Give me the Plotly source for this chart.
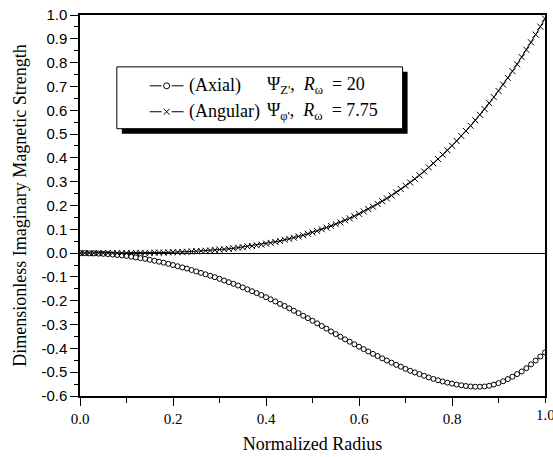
import plotly.graph_objects as go

# Normalized radius samples (step 0.01)
radius = [round(i * 0.01, 2) for i in range(101)]

# Imaginary part of the axial field component, R_omega = 20
axial = [
    0.000, -0.000, -0.001, -0.001, -0.002, -0.003, -0.004, -0.006, -0.008, -0.010,
    -0.012, -0.015, -0.018, -0.021, -0.024, -0.028, -0.032, -0.036, -0.040, -0.045,
    -0.050, -0.055, -0.060, -0.065, -0.071, -0.077, -0.083, -0.089, -0.095, -0.101,
    -0.108, -0.115, -0.122, -0.129, -0.136, -0.144, -0.152, -0.160, -0.168, -0.176,
    -0.185, -0.194, -0.203, -0.213, -0.222, -0.232, -0.242, -0.252, -0.263, -0.273,
    -0.284, -0.295, -0.306, -0.317, -0.329, -0.340, -0.351, -0.362, -0.372, -0.383,
    -0.393, -0.403, -0.413, -0.423, -0.432, -0.442, -0.451, -0.460, -0.469, -0.477,
    -0.486, -0.494, -0.501, -0.508, -0.515, -0.522, -0.528, -0.534, -0.539, -0.544,
    -0.548, -0.552, -0.555, -0.558, -0.560, -0.561, -0.561, -0.560, -0.557, -0.552,
    -0.546, -0.538, -0.529, -0.519, -0.508, -0.497, -0.483, -0.467, -0.451, -0.434,
    -0.417,
]

# Imaginary part of the angular field component, R_omega = 7.75
angular = [
    0.000, 0.000, 0.000, 0.000, 0.000, 0.000, 0.000, 0.000, 0.000, 0.000,
    0.000, 0.000, 0.001, 0.001, 0.001, 0.001, 0.002, 0.002, 0.002, 0.003,
    0.004, 0.004, 0.005, 0.006, 0.007, 0.008, 0.009, 0.010, 0.011, 0.013,
    0.015, 0.016, 0.018, 0.020, 0.023, 0.025, 0.028, 0.030, 0.033, 0.036,
    0.040, 0.043, 0.047, 0.051, 0.056, 0.060, 0.065, 0.070, 0.075, 0.081,
    0.087, 0.093, 0.100, 0.107, 0.114, 0.122, 0.129, 0.138, 0.146, 0.155,
    0.165, 0.175, 0.185, 0.195, 0.207, 0.218, 0.230, 0.242, 0.255, 0.269,
    0.283, 0.297, 0.312, 0.327, 0.343, 0.360, 0.377, 0.395, 0.413, 0.432,
    0.451, 0.471, 0.492, 0.513, 0.535, 0.558, 0.581, 0.605, 0.630, 0.655,
    0.681, 0.708, 0.736, 0.764, 0.793, 0.823, 0.854, 0.885, 0.918, 0.951,
    0.985,
]

x_ticks = [0.0, 0.2, 0.4, 0.6, 0.8, 1.0]
y_ticks = [round(-0.6 + 0.1 * i, 1) for i in range(17)]

SERIF = "Liberation Serif"
SANS = "Liberation Sans"

fig = go.Figure()

fig.add_trace(go.Scatter(
    x=radius, y=axial, mode="lines+markers",
    line=dict(color="black", width=1),
    marker=dict(symbol="circle", size=5, color="white",
                line=dict(color="black", width=1)),
    showlegend=False,
))

fig.add_trace(go.Scatter(
    x=radius, y=angular, mode="lines+markers",
    line=dict(color="black", width=1),
    marker=dict(symbol="x-thin", size=6, color="black",
                line=dict(color="black", width=1)),
    showlegend=False,
))

# Legend box with drop shadow, drawn in paper coordinates
PX0, PX1, PY0, PY1 = 80, 547, 14, 396


def px(v):
    return (v - PX0) / (PX1 - PX0)


def py(v):
    return (PY1 - v) / (PY1 - PY0)


shapes = [
    dict(type="rect", xref="paper", yref="paper",
         x0=px(122), x1=px(409), y0=py(133), y1=py(71),
         fillcolor="black", line=dict(width=0), layer="above"),
    dict(type="rect", xref="paper", yref="paper",
         x0=px(117), x1=px(404), y0=py(128), y1=py(66),
         fillcolor="white", line=dict(color="black", width=1), layer="above"),
]

row_y = [85, 111]
for ry in row_y:
    for a, b in [(150, 162), (172, 184)]:
        shapes.append(dict(type="line", xref="paper", yref="paper",
                           x0=px(a), x1=px(b), y0=py(ry), y1=py(ry),
                           line=dict(color="black", width=1), layer="above"))
# circle sample
shapes.append(dict(type="circle", xref="paper", yref="paper",
                   x0=px(164), x1=px(170), y0=py(row_y[0] + 3), y1=py(row_y[0] - 3),
                   fillcolor="white", line=dict(color="black", width=1), layer="above"))
# cross sample
for a, b in [(-3, 3), (3, -3)]:
    shapes.append(dict(type="line", xref="paper", yref="paper",
                       x0=px(167 - 3), x1=px(167 + 3),
                       y0=py(row_y[1] + a), y1=py(row_y[1] + b),
                       line=dict(color="black", width=1), layer="above"))

legend_font = dict(family=SERIF, size=18, color="black")
annotations = [
    dict(text="(Axial)", x=px(187), y=py(row_y[0]), xanchor="left", yanchor="middle"),
    dict(text="(Angular)", x=px(187), y=py(row_y[1]), xanchor="left", yanchor="middle"),
    dict(text="Ψ<sub>Z'</sub>,  <i>R</i><sub>ω</sub>  = 20",
         x=px(266), y=py(row_y[0]), xanchor="left", yanchor="middle"),
    dict(text="Ψ<sub>φ'</sub>,  <i>R</i><sub>ω</sub>  = 7.75",
         x=px(266), y=py(row_y[1]), xanchor="left", yanchor="middle"),
]
for a in annotations:
    a.update(xref="paper", yref="paper", showarrow=False, font=legend_font)

# Tick label at the right end of the radius axis
annotations.append(dict(text="1.0", xref="paper", yref="paper", x=1.0, y=py(415),
                        xanchor="center", yanchor="middle", showarrow=False,
                        font=dict(family=SERIF, size=15, color="black")))

fig.update_layout(
    width=553, height=457,
    margin=dict(l=80, r=6, t=14, b=61),
    paper_bgcolor="white", plot_bgcolor="white",
    shapes=shapes, annotations=annotations,
)

fig.update_xaxes(
    range=[0, 1], tickvals=x_ticks[:-1], ticktext=[f"{v:.1f}" for v in x_ticks[:-1]],
    showgrid=False, zeroline=False,
    showline=True, linecolor="black", linewidth=1.5, mirror=True,
    ticks="outside", ticklen=8, tickwidth=1, tickcolor="black",
    minor=dict(dtick=0.1, ticks="outside", ticklen=5, tickwidth=1, tickcolor="black"),
    tickfont=dict(family=SERIF, size=15, color="black"),
    title=dict(text="Normalized Radius", font=dict(family=SERIF, size=18, color="black"),
               standoff=12),
)

fig.update_yaxes(
    range=[-0.6, 1.0], tickvals=y_ticks, ticktext=[f"{v:.1f}" for v in y_ticks],
    showgrid=False, zeroline=True, zerolinecolor="black", zerolinewidth=1,
    showline=True, linecolor="black", linewidth=1.5, mirror=True,
    ticks="outside", ticklen=8, tickwidth=1, tickcolor="black",
    minor=dict(dtick=0.05, ticks="outside", ticklen=4, tickwidth=1, tickcolor="black"),
    tickfont=dict(family=SANS, size=15, color="black"),
    title=dict(text="Dimensionless Imaginary Magnetic Strength",
               font=dict(family=SERIF, size=18, color="black"), standoff=10),
)

fig.write_html("out.html")
